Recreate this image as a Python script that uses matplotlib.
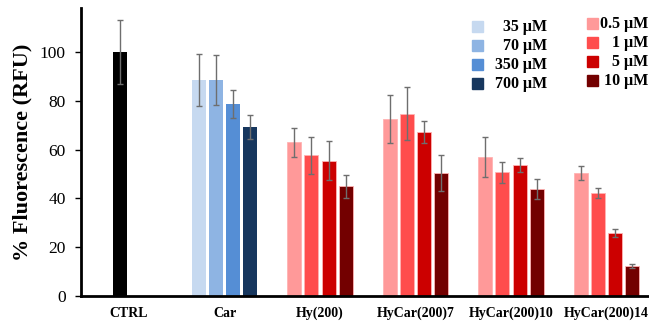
"""bar chart of % fluorescence with error bars"""
import matplotlib
matplotlib.use("Agg")
import matplotlib.pyplot as plt
import numpy as np

plt.rcParams['font.family'] = ['Liberation Serif', 'DejaVu Serif']

# data
groups = ['CTRL', 'Car', 'Hy(200)', 'HyCar(200)7', 'HyCar(200)10', 'HyCar(200)14']
ctrl_val, ctrl_err = 100.0, 13.2

car_labels = ['35 μM', '70 μM', '350 μM', '700 μM']
car_vals = [88.6, 88.6, 78.8, 69.3]
car_errs = [10.8, 10.2, 5.8, 4.8]

red_labels = ['0.5 μM', '1 μM', '5 μM', '10 μM']
red_groups = ['Hy(200)', 'HyCar(200)7', 'HyCar(200)10', 'HyCar(200)14']
red_vals = [[63.0, 72.6, 56.9, 50.3],
            [57.7, 74.8, 50.7, 42.1],
            [55.5, 67.1, 53.8, 25.9],
            [44.9, 50.4, 43.7, 12.3]]
red_errs = [[6.0, 9.8, 8.2, 2.9],
            [7.7, 10.8, 4.4, 2.0],
            [8.0, 4.5, 2.8, 1.7],
            [4.7, 7.3, 4.1, 0.9]]

blue_cols = ['#c6d9f0', '#8eb4e3', '#558ed5', '#17375e']
red_cols = ['#ff9999', '#ff4d4d', '#cc0000', '#730000']

fig = plt.figure(figsize=(6.49, 3.24), dpi=100)
ax = fig.add_axes([81/649, 1 - 295.7/324, 1 - 81/649, 287.7/324])

step = 0.181
width = 0.147
offsets = (np.arange(4) - 1.5) * step
ekw = dict(ecolor='#6e6e6e', elinewidth=1.0, capsize=2.5, capthick=1.0)

# CTRL sits in the 2nd slot of its category
ax.bar(offsets[1], ctrl_val, width, color='black', yerr=ctrl_err, error_kw=ekw, zorder=2)

xi = groups.index('Car')
for j in range(4):
    ax.bar(xi + offsets[j], car_vals[j], width, color=blue_cols[j],
           yerr=car_errs[j], error_kw=ekw, zorder=2)

gx = np.array([groups.index(g) for g in red_groups])
for j in range(4):
    ax.bar(gx + offsets[j], red_vals[j], width, color=red_cols[j],
           edgecolor='#ffb3b3', linewidth=0.6,
           yerr=red_errs[j], error_kw=ekw, zorder=2)

ax.set_xlim(-0.503, 5.445)
ax.set_ylim(0, 118.2)
ax.set_yticks(np.arange(0, 101, 20))
ax.set_xticks(range(len(groups)))
ax.set_xticklabels(groups, fontweight='bold', fontsize=10)
ax.tick_params(axis='x', length=0, pad=8)
ax.tick_params(axis='y', length=4, width=1.0, labelsize=12.5, pad=7)
for s in ['top', 'right']:
    ax.spines[s].set_visible(False)
for s in ['left', 'bottom']:
    ax.spines[s].set_linewidth(2)
ax.set_ylabel('% Fluorescence (RFU)', fontweight='bold', fontsize=16, labelpad=5)

# legend, two columns, labels right-aligned
for j in range(4):
    fig.patches.append(plt.Rectangle((472/649, 1 - (27 + 19*j + 5)/324), 11/649, 11/324,
                                     color=blue_cols[j], transform=fig.transFigure))
    fig.text(547/649, 1 - (27 + 19*j)/324, car_labels[j], ha='right', va='center',
             fontsize=11.5, fontweight='bold')
    fig.patches.append(plt.Rectangle((587/649, 1 - (24 + 19*j + 5)/324), 11/649, 11/324,
                                     color=red_cols[j], transform=fig.transFigure))
    fig.text(648/649, 1 - (24 + 19*j)/324, red_labels[j], ha='right', va='center',
             fontsize=11.5, fontweight='bold')

fig.savefig('out.png', dpi=100)
